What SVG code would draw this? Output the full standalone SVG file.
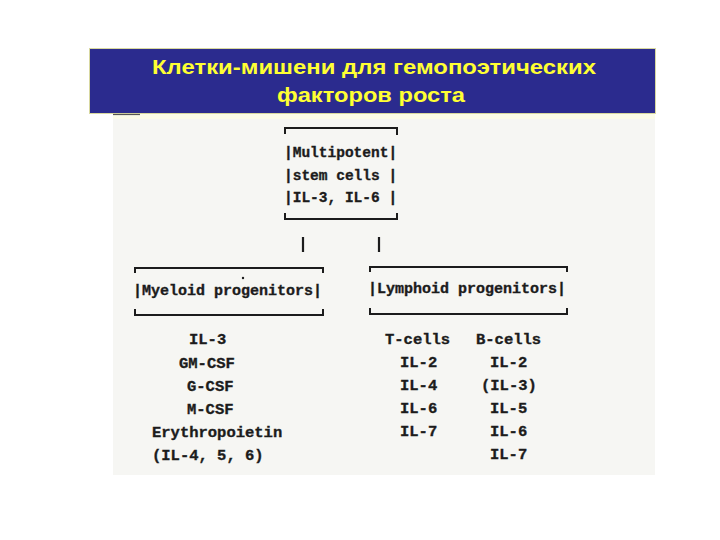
<svg xmlns="http://www.w3.org/2000/svg" width="720" height="540" viewBox="0 0 720 540">
<style>
.title{font-family:"Liberation Sans",Arial,sans-serif;font-weight:bold;font-size:21px;fill:#ffff33;text-anchor:middle}
.mono{font-family:"Liberation Mono","Courier New",monospace;font-weight:bold;fill:#1c1c1c;stroke:#1c1c1c;stroke-width:0.35}
.br{fill:none;stroke:#1c1c1c;stroke-width:2}
.con{stroke:#1c1c1c;stroke-width:2.2}
</style>
<rect x="0" y="0" width="720" height="540" fill="#ffffff"/>
<rect x="113" y="113" width="542" height="362" fill="#f6f6f3"/>
<rect x="113" y="113" width="542" height="6" fill="#fbfbe8"/>
<g id="title">
<rect x="89.5" y="48.5" width="566" height="65" fill="#2b2b8e" stroke="#d8d8a0" stroke-width="1"/>
<line x1="113" y1="114.5" x2="140" y2="114.5" stroke="#555555" stroke-width="1.2"/>
<text class="title" x="374" y="74" textLength="444" lengthAdjust="spacingAndGlyphs">Клетки-мишени для гемопоэтических</text>
<text class="title" x="371" y="102" textLength="188" lengthAdjust="spacingAndGlyphs">факторов роста</text>
</g>
<g id="multipotent">
<path class="br" d="M285,134 V128 H397 V135"/>
<path class="br" d="M285,213 V219 H397 V213"/>
<text class="mono" font-size="14.5" x="284" y="157">|Multipotent|</text>
<text class="mono" font-size="14.5" x="284" y="180">|stem cells |</text>
<text class="mono" font-size="14.5" x="284" y="202">|IL-3, IL-6 |</text>
</g>
<g id="connectors">
<line class="con" x1="303" y1="237" x2="303" y2="252"/>
<line class="con" x1="379" y1="237" x2="379" y2="252"/>
</g>
<g id="myeloid">
<path class="br" d="M135,273 V268 H323 V273"/>
<path class="br" d="M135,309 V315 H323 V309"/>
<circle cx="243" cy="278" r="1.2" fill="#1c1c1c"/>
<text class="mono" font-size="15" x="133" y="295">|Myeloid progenitors|</text>
</g>
<g id="lymphoid">
<path class="br" d="M370,272 V267 H567 V272"/>
<path class="br" d="M370,308 V314 H567 V308"/>
<text class="mono" font-size="15" x="368" y="293">|Lymphoid progenitors|</text>
</g>
<g id="myeloid-factors" class="mono" font-size="15.5">
<text x="189" y="344">IL-3</text>
<text x="179" y="368">GM-CSF</text>
<text x="187" y="391">G-CSF</text>
<text x="187" y="414">M-CSF</text>
<text x="152" y="437">Erythropoietin</text>
<text x="152" y="460">(IL-4, 5, 6)</text>
</g>
<g id="t-cells" class="mono" font-size="15.5">
<text x="385" y="344">T-cells</text>
<text x="400" y="367">IL-2</text>
<text x="400" y="390">IL-4</text>
<text x="400" y="413">IL-6</text>
<text x="400" y="436">IL-7</text>
</g>
<g id="b-cells" class="mono" font-size="15.5">
<text x="476" y="344">B-cells</text>
<text x="490" y="367">IL-2</text>
<text x="481" y="390">(IL-3)</text>
<text x="490" y="413">IL-5</text>
<text x="490" y="436">IL-6</text>
<text x="490" y="459">IL-7</text>
</g>
</svg>
